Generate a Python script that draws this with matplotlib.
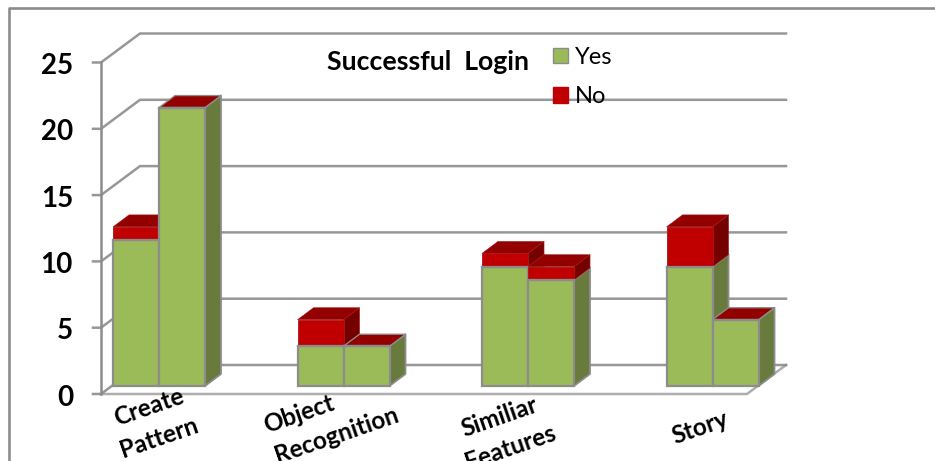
import matplotlib
matplotlib.use("Agg")
import matplotlib.pyplot as plt
from matplotlib.patches import Patch

categories = ["Create\nPattern", "Object\nRecognition", "Similiar\nFeatures", "Story"]
yes_left = [11, 3, 9, 9]
no_left = [1, 2, 1, 3]
yes_right = [21, 3, 8, 5]
no_right = [0, 0, 1, 0]
ticks = [0, 5, 10, 15, 20, 25]

W, H = 935, 461
XS = 184.5   # pixels per category
YS = 13.26   # pixels per unit
X0, Y0 = 159, 394

GRAY = "#8c8c8c"
GREEN, GREEN_S = "#9bbb59", "#687a3c"
RED, RED_T, RED_S = "#c00000", "#930000", "#750000"

plt.rcParams["font.family"] = ["Lato", "DejaVu Sans"]
fig = plt.figure(figsize=(W / 100, H / 100), dpi=100)
ax = fig.add_axes([0, 0, 1, 1])
ax.set_xlim((0 - X0) / XS, (W - X0) / XS)
ax.set_ylim((Y0 - H) / YS, Y0 / YS)
ax.axis("off")

# depth of the chart box and of the bars, in data units
DX, DY = 39 / XS, 29 / YS
BX, BY = 16 / XS, 12 / YS
LIFT = 8 / YS
LEFT, RIGHT = (101 - X0) / XS, (747 - X0) / XS
BW = 46 / XS

# outer frame
ax.plot([(9 - X0) / XS, (9 - X0) / XS, (W - X0) / XS],
        [(Y0 - H) / YS, (Y0 - 8) / YS, (Y0 - 8) / YS], color=GRAY, lw=1.9, zorder=1)

# walls and grid
for t in ticks:
    ax.plot([LEFT - 8 / XS, LEFT, LEFT + DX, RIGHT + DX], [t, t, t + DY, t + DY],
            color=GRAY, lw=1.8, alpha=0.9, zorder=1)
    ax.text(LEFT - 28 / XS, t - 3.5 / YS, str(t), ha="right", va="center", fontsize=20,
            fontweight="bold", color="black")
ax.plot([LEFT, LEFT], [0, ticks[-1]], color=GRAY, lw=1.8, zorder=1)
ax.plot([LEFT, RIGHT, RIGHT + DX], [0, 0, DY], color=GRAY, lw=1.8, alpha=0.7, zorder=1)


def box(x, y0, y1, front, top, side, edge, lw=1.6):
    ax.fill([x + BW, x + BW + BX, x + BW + BX, x + BW],
            [y0, y0 + BY, y1 + BY, y1], fc=side, ec=edge, lw=lw * 0.8, zorder=3, joinstyle="round")
    ax.fill([x, x + BX, x + BW + BX, x + BW], [y1, y1 + BY, y1 + BY, y1],
            fc=top, ec=edge, lw=lw * 0.6, zorder=3)
    ax.fill([x, x + BW, x + BW, x], [y0, y0, y1, y1], fc=front, ec=edge, lw=lw, zorder=3)


def bar(x, yes, no):
    box(x, LIFT, LIFT + yes, GREEN, RED_T, GREEN_S, GRAY)
    if no > 0:
        box(x, LIFT + yes, LIFT + yes + no, RED, RED_T, RED_S, "#a81818", lw=0.6)
    # zero-height "No" segment: only the dark top shows
    ax.plot([x, x + BW], [LIFT + yes, LIFT + yes], color=GRAY, lw=1.6, zorder=3)


for i in range(len(categories)):
    bar(i - BW, yes_left[i], no_left[i])
    bar(i, yes_right[i], no_right[i])

# category labels, placed in pixels
label_px = [(154, 422), (331, 420), (505, 432), (700, 428)]
label_align = ["center", "left", "center", "center"]
for lab, (px, py), al in zip(categories, label_px, label_align):
    ax.text((px - X0) / XS, (Y0 - py) / YS, lab, rotation=19, ha="center", va="center",
            fontsize=17.5, fontweight="bold", color="black", linespacing=1.5,
            rotation_mode="anchor", multialignment=al, zorder=5)

ax.text((327 - X0) / XS, (Y0 - 62) / YS, "Successful  Login", ha="left", va="center",
        fontsize=19.2, fontweight="bold", color="black", zorder=5)

handles = [Patch(fc=GREEN, ec=GRAY, lw=1), Patch(fc=RED, ec=RED, lw=1)]
ax.legend(handles, ["Yes", "No"], frameon=False, fontsize=17,
          loc="upper left", bbox_to_anchor=(553 / W, 1 - 47 / H), borderaxespad=0,
          borderpad=0, handlelength=0.63, handleheight=0.63, handletextpad=0.3,
          labelspacing=0.78, labelcolor="black")

fig.savefig("out.png", dpi=100)
